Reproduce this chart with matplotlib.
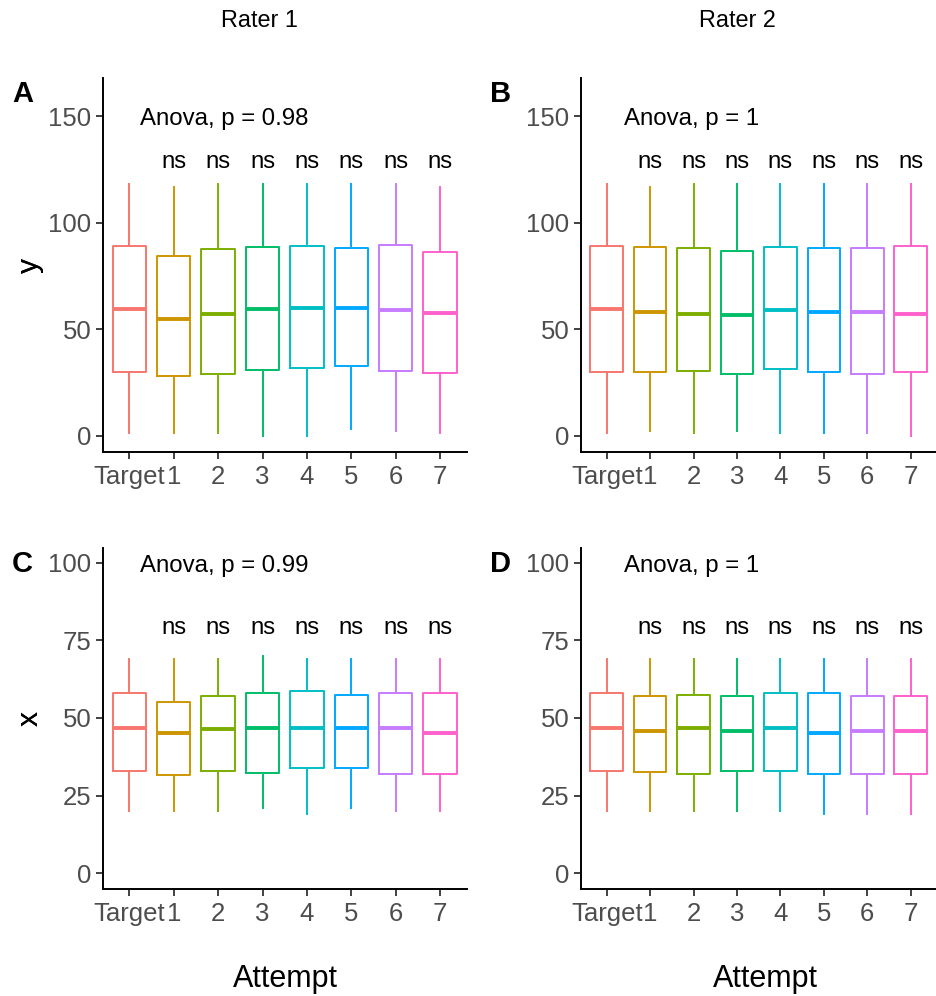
import matplotlib
matplotlib.use('Agg')
import matplotlib.pyplot as plt

plt.rcParams['font.family'] = ['Liberation Sans', 'DejaVu Sans']

# Data
attempts = ['Target', '1', '2', '3', '4', '5', '6', '7']
colors = ['#F8766D', '#CD9600', '#7CAE00', '#00BE67', '#00BFC4', '#00A9FF', '#C77CFF', '#FF61CC']

# Panel A: Rater 1, y
a_lo = [1.4, 1.4, 1.4, 0.0, 0.0, 3.1, 2.2, 1.4]
a_q1 = [30.0, 28.0, 29.1, 30.8, 31.9, 32.7, 30.3, 29.6]
a_med = [59.6, 54.6, 56.9, 59.6, 59.9, 59.9, 59.0, 57.4]
a_q3 = [88.8, 84.3, 87.6, 88.7, 89.0, 87.9, 89.6, 86.2]
a_hi = [117.9, 116.8, 118.0, 118.0, 118.0, 118.0, 118.0, 116.8]

# Panel B: Rater 2, y
b_lo = [1.4, 2.2, 1.4, 2.2, 1.4, 1.4, 1.4, 0.0]
b_q1 = [30.0, 29.9, 30.3, 29.1, 31.4, 29.9, 29.1, 29.9]
b_med = [59.6, 58.0, 57.1, 56.5, 59.0, 58.0, 57.9, 56.9]
b_q3 = [88.8, 88.5, 87.9, 86.8, 88.5, 87.9, 87.9, 89.0]
b_hi = [118.0, 116.8, 118.0, 118.0, 118.0, 118.0, 118.0, 118.0]

# Panel C: Rater 1, x
c_lo = [20, 20, 20, 21, 19, 21, 20, 20]
c_q1 = [33.0, 31.7, 33.0, 32.2, 33.9, 33.9, 32.0, 32.0]
c_med = [46.9, 45.0, 46.4, 46.9, 46.9, 46.9, 46.9, 45.0]
c_q3 = [57.9, 55.2, 57.0, 57.9, 58.8, 57.4, 57.9, 57.9]
c_hi = [69, 69, 69, 70, 69, 69, 69, 69]

# Panel D: Rater 2, x
d_lo = [20, 20, 20, 20, 20, 19, 19, 19]
d_q1 = [33.0, 32.5, 32.0, 33.0, 33.0, 32.0, 32.0, 32.0]
d_med = [46.9, 45.9, 46.9, 45.9, 46.9, 45.0, 45.9, 45.9]
d_q3 = [57.9, 57.0, 57.4, 57.0, 57.9, 57.9, 57.0, 57.0]
d_hi = [69, 69, 69, 69, 69, 69, 69, 69]

anova_labels = ['Anova, p = 0.98', 'Anova, p = 1', 'Anova, p = 0.99', 'Anova, p = 1']

W, H = 937, 996
fig = plt.figure(figsize=(W / 100, H / 100), dpi=100)
fig.patch.set_facecolor('white')


def px_axes(left, top, right, bottom):
    return fig.add_axes([left / W, 1 - bottom / H, (right - left) / W, (bottom - top) / H])


panels = [
    dict(box=(102.7, 78.3, 466.7, 452.3), data=(a_lo, a_q1, a_med, a_q3, a_hi), ylim=(-7.8, 167.7),
         yticks=[0, 50, 100, 150], ylabel='y', anova_y=145.8, ns_y=125.4, anova_x=1.25, tag='A'),
    dict(box=(580.7, 78.3, 936.7, 452.3), data=(b_lo, b_q1, b_med, b_q3, b_hi), ylim=(-7.8, 167.7),
         yticks=[0, 50, 100, 150], ylabel='y', anova_y=145.8, ns_y=125.4, anova_x=1.39, tag='B'),
    dict(box=(102.7, 548.3, 466.7, 889.3), data=(c_lo, c_q1, c_med, c_q3, c_hi), ylim=(-5.15, 104.6),
         yticks=[0, 25, 50, 75, 100], ylabel='x', anova_y=96.9, ns_y=76.9, anova_x=1.25, tag='C'),
    dict(box=(580.7, 548.3, 936.7, 889.3), data=(d_lo, d_q1, d_med, d_q3, d_hi), ylim=(-5.15, 104.6),
         yticks=[0, 25, 50, 75, 100], ylabel='x', anova_y=96.9, ns_y=76.9, anova_x=1.39, tag='D'),
]

for i, p in enumerate(panels):
    ax = px_axes(*p['box'])
    lo, q1, med, q3, hi = p['data']
    positions = list(range(1, len(attempts) + 1))
    for k in range(len(attempts)):
        stats = [dict(whislo=lo[k], q1=q1[k], med=med[k], q3=q3[k], whishi=hi[k], fliers=[])]
        c = colors[k]
        ax.bxp(stats, positions=[positions[k]], widths=0.75, showfliers=False, showcaps=False,
               boxprops=dict(color=c, linewidth=1.4),
               whiskerprops=dict(color=c, linewidth=1.4),
               medianprops=dict(color=c, linewidth=2.8, solid_capstyle='butt'))
    ax.set_xlim(0.4, 8.6)
    ax.set_ylim(*p['ylim'])
    ax.set_xticks(positions)
    ax.set_xticklabels(attempts)
    ax.set_yticks(p['yticks'])
    ax.tick_params(axis='both', labelsize=18.5, labelcolor='#4D4D4D', color='#333333',
                   length=5, width=1.3, pad=3)
    ax.tick_params(axis='x', pad=4.5)
    for s in ['top', 'right']:
        ax.spines[s].set_visible(False)
    for s in ['left', 'bottom']:
        ax.spines[s].set_linewidth(1.4)
        ax.spines[s].set_color('black')

    ax.text(p['anova_x'], p['anova_y'], anova_labels[i], fontsize=17.3, ha='left', va='baseline')
    for k in positions[1:]:
        ax.text(k, p['ns_y'], 'ns', fontsize=17.3, ha='center', va='baseline')

    left, top, right, bottom = p['box']
    # y axis label
    fig.text(30 / W, 1 - ((top + bottom) / 2) / H, p['ylabel'], fontsize=21.5, rotation=90,
             ha='center', va='center')
    # panel tag
    fig.text((left - 80) / W, 1 - (top + 24) / H, p['tag'], fontsize=21, fontweight='bold',
             ha='center', va='baseline')

fig.text(259 / W, 1 - 27.3 / H, 'Rater 1', fontsize=16.8, ha='center', va='baseline')
fig.text(737.5 / W, 1 - 27.3 / H, 'Rater 2', fontsize=16.8, ha='center', va='baseline')
fig.text(285 / W, 1 - 986.7 / H, 'Attempt', fontsize=22, ha='center', va='baseline')
fig.text(765 / W, 1 - 986.7 / H, 'Attempt', fontsize=22, ha='center', va='baseline')

plt.savefig('out.png', dpi=100)
